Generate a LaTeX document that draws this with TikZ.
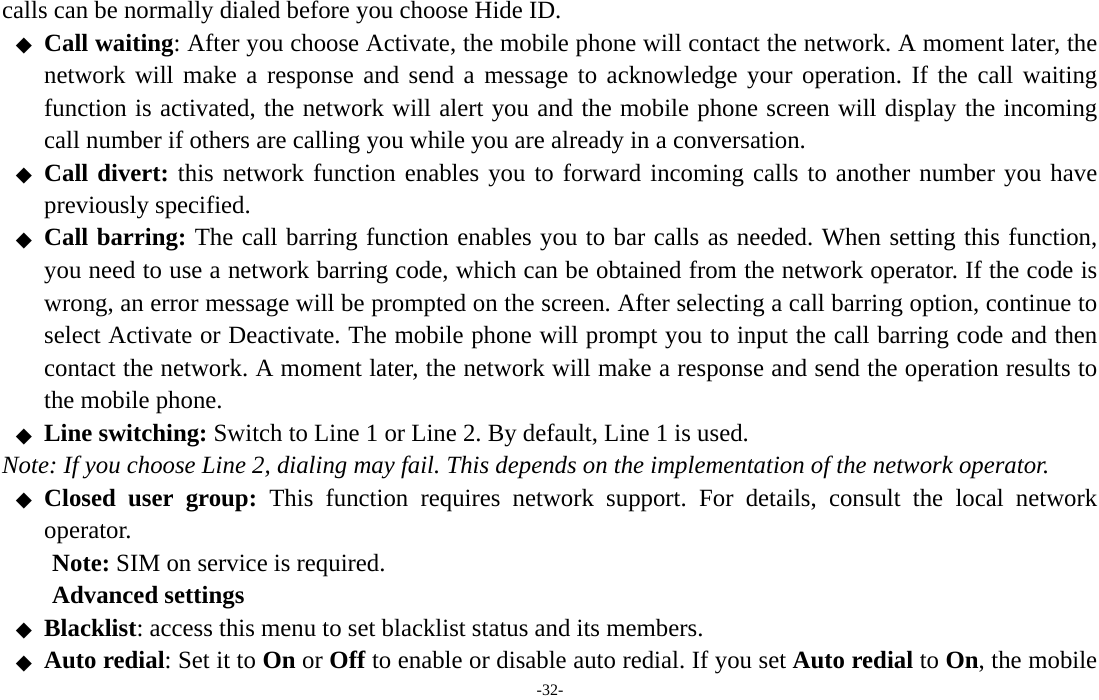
\documentclass[tikz,border=0pt]{standalone}
\usepackage{fontspec}
\setmainfont{Liberation Serif}
\newfontfamily\symfont{DejaVu Sans}
\frenchspacing
\tikzset{
  txt/.style={anchor=base west, inner sep=0pt, font=\fontsize{24.8pt}{28pt}\selectfont},
  bul/.style={anchor=base, inner sep=0pt, font=\symfont\fontsize{21pt}{24pt}\selectfont},
}
\newcommand{\fline}[1]{\hbox to 1053pt{#1}}
\begin{document}
\begin{tikzpicture}[x=1pt, y=-1pt]
  \useasboundingbox (0,0) rectangle (1099,700);
  % full-width lines are stretched, the others left as they are
  \node[txt] (l1) at (2,19) {calls can be normally dialed before you choose Hide ID.};
  \node[bul] (b2) at (24,52) {◆};
  \node[txt] (l2) at (44,51.5) {\fline{\textbf{Call waiting}: After you choose Activate, the mobile phone will contact the network. A moment later, the}};
  \node[txt] (l3) at (44,84) {\fline{network will make a response and send a message to acknowledge your operation. If the call waiting}};
  \node[txt] (l4) at (44,116.5) {\fline{function is activated, the network will alert you and the mobile phone screen will display the incoming}};
  \node[txt] (l5) at (44,149) {call number if others are calling you while you are already in a conversation.};
  \node[bul] (b6) at (24,182) {◆};
  \node[txt] (l6) at (44,181.5) {\fline{\textbf{Call divert:} this network function enables you to forward incoming calls to another number you have}};
  \node[txt] (l7) at (44,214) {previously specified.};
  \node[bul] (b8) at (24,247) {◆};
  \node[txt] (l8) at (44,246) {\fline{\textbf{Call barring:} The call barring function enables you to bar calls as needed. When setting this function,}};
  \node[txt] (l9) at (44,278.5) {\fline{you need to use a network barring code, which can be obtained from the network operator. If the code is}};
  \node[txt] (l10) at (44,311) {\fline{wrong, an error message will be prompted on the screen. After selecting a call barring option, continue to}};
  \node[txt] (l11) at (44,343.5) {\fline{select Activate or Deactivate. The mobile phone will prompt you to input the call barring code and then}};
  \node[txt] (l12) at (44,376) {\fline{contact the network. A moment later, the network will make a response and send the operation results to}};
  \node[txt] (l13) at (44,408.5) {the mobile phone.};
  \node[bul] (b14) at (24,442) {◆};
  \node[txt] (l14) at (44,441) {\textbf{Line switching:} Switch to Line 1 or Line 2. By default, Line 1 is used.};
  \node[txt] (l15) at (2,473.5) {\textit{Note: If you choose Line 2, dialing may fail. This depends on the implementation of the network operator.}};
  \node[bul] (b16) at (24,506.5) {◆};
  \node[txt] (l16) at (44,506) {\fline{\textbf{Closed user group:} This function requires network support. For details, consult the local network}};
  \node[txt] (l17) at (44,538.5) {operator.};
  \node[txt] (l18) at (52,571) {\textbf{Note:} SIM on service is required.};
  \node[txt] (l19) at (52,603.5) {\textbf{Advanced settings}};
  \node[bul] (b20) at (24,636.5) {◆};
  \node[txt] (l20) at (44,636) {\textbf{Blacklist}: access this menu to set blacklist status and its members.};
  \node[bul] (b21) at (24,669) {◆};
  \node[txt] (l21) at (44,668.5) {\fline{\textbf{Auto redial}: Set it to \textbf{On} or \textbf{Off} to enable or disable auto redial. If you set \textbf{Auto redial} to \textbf{On}, the mobile}};
  \node[inner sep=0pt, anchor=base, font=\fontsize{16pt}{18pt}\selectfont] (pg) at (550,695) {-32-};
\end{tikzpicture}
\end{document}
